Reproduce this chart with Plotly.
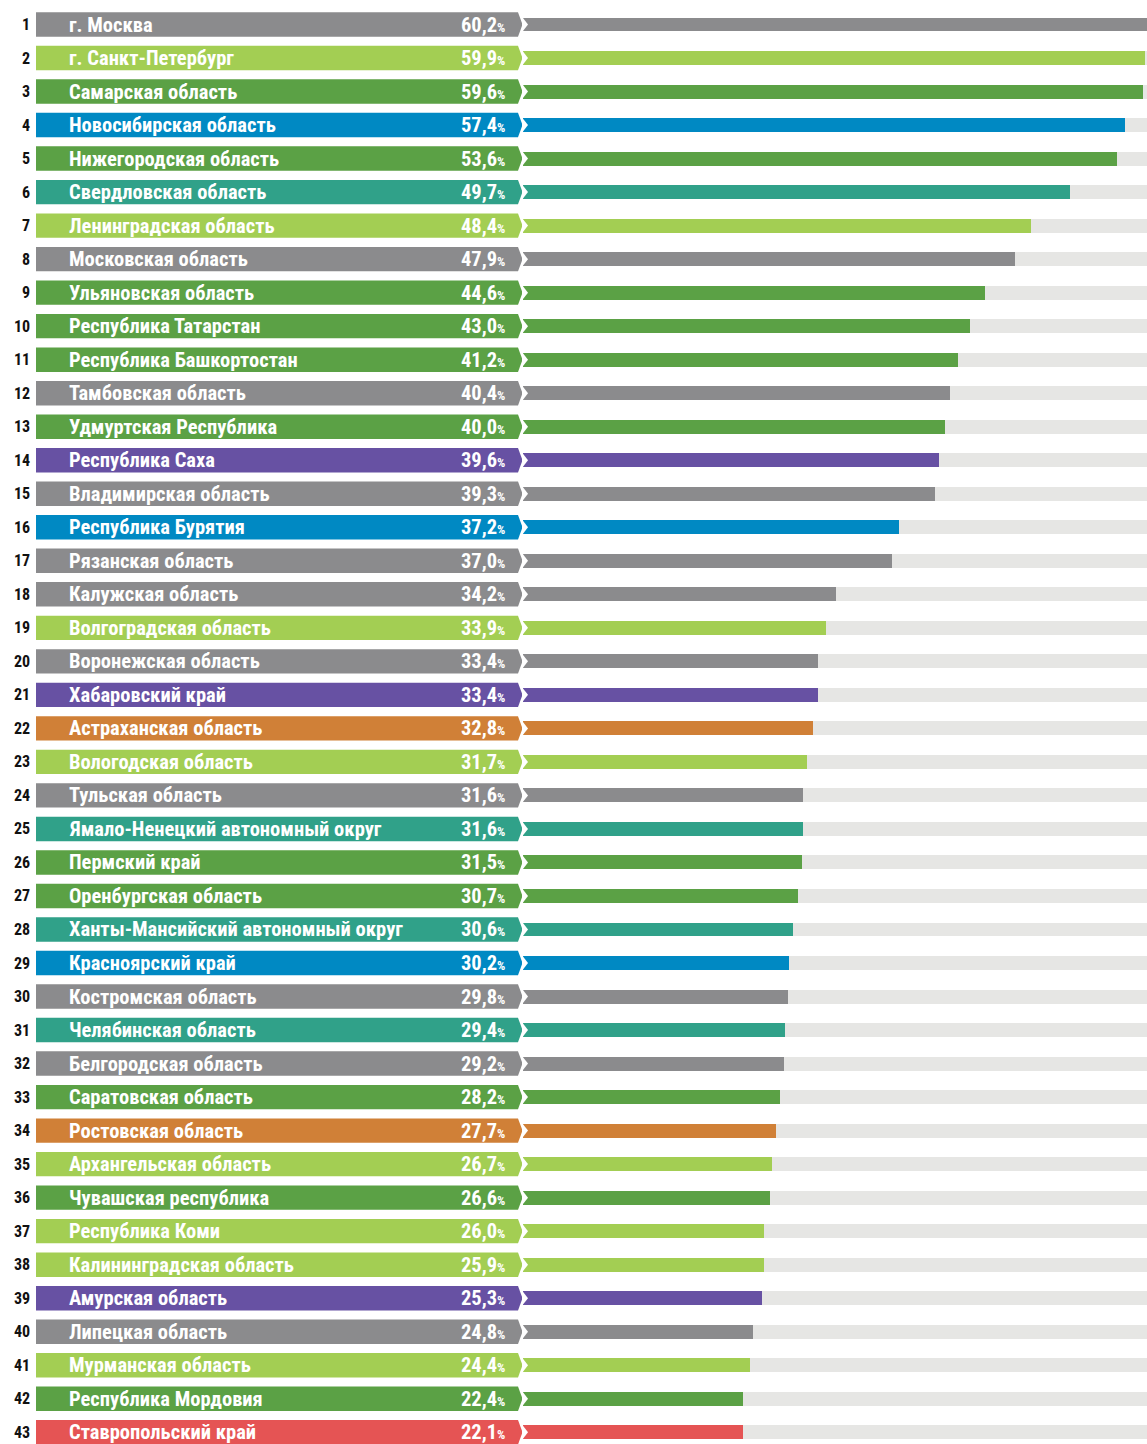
import plotly.graph_objects as go

ranks = list(range(1, 44))
regions = [
    "г. Москва", "г. Санкт-Петербург", "Самарская область", "Новосибирская область",
    "Нижегородская область", "Свердловская область", "Ленинградская область",
    "Московская область", "Ульяновская область", "Республика Татарстан",
    "Республика Башкортостан", "Тамбовская область", "Удмуртская Республика",
    "Республика Саха", "Владимирская область", "Республика Бурятия", "Рязанская область",
    "Калужская область", "Волгоградская область", "Воронежская область",
    "Хабаровский край", "Астраханская область", "Вологодская область", "Тульская область",
    "Ямало-Ненецкий автономный округ", "Пермский край", "Оренбургская область",
    "Ханты-Мансийский автономный округ", "Красноярский край", "Костромская область",
    "Челябинская область", "Белгородская область", "Саратовская область",
    "Ростовская область", "Архангельская область", "Чувашская республика",
    "Республика Коми", "Калининградская область", "Амурская область",
    "Липецкая область", "Мурманская область", "Республика Мордовия", "Ставропольский край",
]
values = [60.2, 59.9, 59.6, 57.4, 53.6, 49.7, 48.4, 47.9, 44.6, 43.0, 41.2, 40.4, 40.0,
          39.6, 39.3, 37.2, 37.0, 34.2, 33.9, 33.4, 33.4, 32.8, 31.7, 31.6, 31.6, 31.5,
          30.7, 30.6, 30.2, 29.8, 29.4, 29.2, 28.2, 27.7, 26.7, 26.6, 26.0, 25.9, 25.3,
          24.8, 24.4, 22.4, 22.1]
# bar length index (share of the longest bar)
bar_index = [100, 99.7, 99.4, 96.5, 95.2, 87.7, 81.4, 78.8, 74.0, 71.6, 69.7, 68.4, 67.6,
             66.7, 66.0, 60.3, 59.1, 50.2, 48.6, 47.3, 47.3, 46.5, 45.5, 44.9, 44.9, 44.7,
             44.1, 43.3, 42.6, 42.5, 42.0, 41.8, 41.2, 40.5, 39.9, 39.6, 38.6, 38.6, 38.3,
             36.9, 36.4, 35.3, 35.3]
groups = ["gray", "lime", "green", "blue", "green", "teal", "lime", "gray", "green", "green",
          "green", "gray", "green", "purple", "gray", "blue", "gray", "gray", "lime", "gray",
          "purple", "orange", "lime", "gray", "teal", "green", "green", "teal", "blue", "gray",
          "teal", "gray", "green", "orange", "lime", "green", "lime", "lime", "purple", "gray",
          "lime", "green", "red"]
group_colors = {
    "gray": "#8b8b8d", "lime": "#a3ce53", "green": "#5ba145", "blue": "#0089c3",
    "teal": "#30a189", "purple": "#6751a3", "orange": "#d08037", "red": "#e55454",
}
track_color = "#e6e6e4"

FONT = "Liberation Sans Narrow, Roboto Condensed, DejaVu Sans Condensed, Arial Narrow, sans-serif"
W, H = 1147, 1444
colors = [group_colors[g] for g in groups]

fig = go.Figure()
fig.add_trace(go.Bar(x=[100] * len(ranks), y=ranks, orientation="h", width=0.417,
                     marker=dict(color=track_color, line=dict(width=0)),
                     xaxis="x2", yaxis="y", hoverinfo="skip", showlegend=False,
                     textposition="none"))
fig.add_trace(go.Bar(x=bar_index, y=ranks, orientation="h", width=0.417,
                     marker=dict(color=colors, line=dict(width=0)),
                     xaxis="x2", yaxis="y", showlegend=False, textposition="none",
                     customdata=values, hovertext=regions,
                     hovertemplate="%{hovertext}: %{customdata}%<extra></extra>"))

shapes = []
annotations = []
hh = 0.364   # half-height of label box (row units)
bh = 0.209   # half-height of bar
for r, name, v, c in zip(ranks, regions, values, colors):
    shapes.append(dict(type="path", xref="x", yref="y", layer="above",
                       path=f"M 36,{r-hh} L 518,{r-hh} L 522.5,{r} L 518,{r+hh} L 36,{r+hh} Z",
                       fillcolor=c, line=dict(width=0)))
    shapes.append(dict(type="path", xref="x", yref="y", layer="above",
                       path=f"M 522,{r-bh-0.02} L 528,{r} L 522,{r+bh+0.02} Z",
                       fillcolor="white", line=dict(width=0)))
    annotations.append(dict(x=31.5, y=r, xref="x", yref="y", xanchor="right", yanchor="middle",
                            text=f"<b>{r}</b>", showarrow=False,
                            font=dict(family=FONT, size=16, color="#111111")))
    annotations.append(dict(x=67, y=r, xref="x", yref="y", xanchor="left", yanchor="middle",
                            text=f"<b>{name}</b>", showarrow=False,
                            font=dict(family=FONT, size=20.5, color="white")))
    vs = f"{v:.1f}".replace(".", ",")
    annotations.append(dict(x=507, y=r, xref="x", yref="y", xanchor="right", yanchor="middle",
                            text=f"<b>{vs}</b><span style='font-size:13px'><b>%</b></span>",
                            showarrow=False,
                            font=dict(family=FONT, size=20.5, color="white")))

fig.update_layout(
    width=W, height=H, margin=dict(l=0, r=0, t=0, b=0),
    paper_bgcolor="white", plot_bgcolor="white",
    barmode="overlay", bargap=0,
    xaxis=dict(range=[0, W], domain=[0, 1], visible=False, fixedrange=True),
    xaxis2=dict(range=[0, 100], domain=[523 / W, 1], anchor="y", visible=False, fixedrange=True),
    yaxis=dict(range=[43.35, 0.269], visible=False, fixedrange=True),
    shapes=shapes, annotations=annotations,
    hovermode="closest",
)
fig.write_html("out.html", config={"displayModeBar": False},
               post_script="document.body.style.margin='0';document.body.style.padding='0';")
